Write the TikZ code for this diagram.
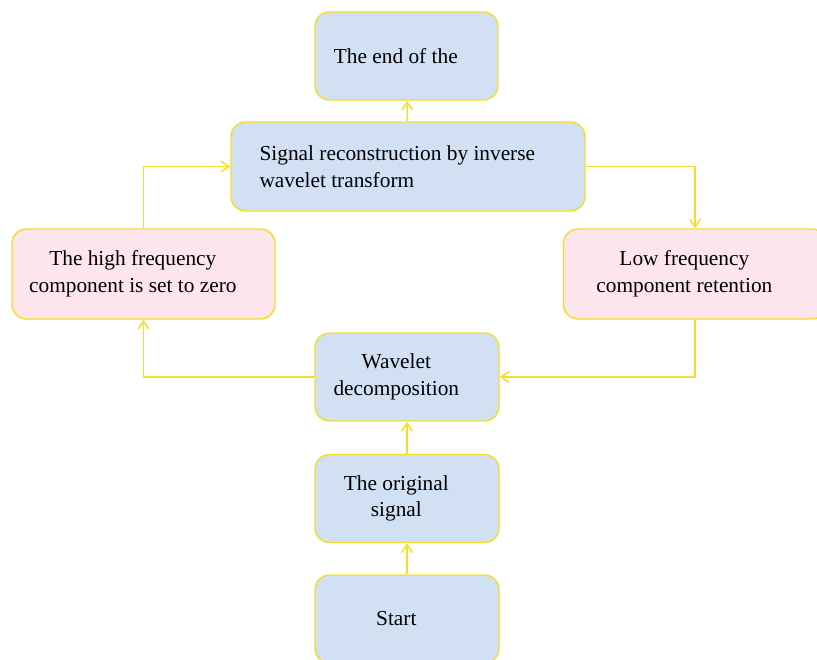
\documentclass[tikz,border=0pt]{standalone}
\usepackage{fontspec}
\setmainfont{Liberation Serif}
\usepackage{xcolor}
\usetikzlibrary{arrows.meta}

\definecolor{boxblue}{HTML}{D2E0F4}
\definecolor{boxpink}{HTML}{FDE6EB}
\definecolor{lineyel}{HTML}{F5DD30}

\begin{document}
\begin{tikzpicture}[x=0.75pt,y=-0.75pt]
\tikzset{blk/.style={draw=lineyel,line width=1.1pt,rounded corners=11pt,fill=boxblue,inner sep=0pt,minimum width=138pt,minimum height=66pt},
  pnk/.style={blk,fill=boxpink,minimum width=197.25pt,minimum height=67.5pt},
  lbl/.style={font=\fontsize{16}{20}\selectfont,align=center,xshift=-8pt,inner sep=0pt},
  arr/.style={-{Straight Barb[length=6pt,width=8pt]},draw=lineyel,line width=1.1pt}}
\useasboundingbox (0,0) rectangle (817,660);
\node (1) at (407,619) [blk,label={[lbl]center:{Start}}] {};
\node (2) at (407,498.5) [blk,label={[lbl]center:{The original\\signal}}] {};
\node (3) at (407,377) [blk,label={[lbl]center:{Wavelet\\decomposition}}] {};
\node (4) at (143.5,274) [pnk,label={[lbl]center:{The high frequency\\component is set to zero}}] {};
\node (5) at (695,274) [pnk,label={[lbl]center:{Low frequency\\component retention}}] {};
\node (6) at (408,166.5) [blk,minimum width=265.5pt,minimum height=66.75pt,label={[lbl,align=left]center:{Signal reconstruction by inverse\\wavelet transform}}] {};
\node (7) at (406.5,56) [blk,minimum width=137.25pt,label={[lbl]center:{The end of the}}] {};

\path
(1) edge [arr] (2)
(2) edge [arr] (3)
(6) edge [arr] (7)
(3.west) edge [arr, to path={-| (\tikztotarget)}] (4.south)
(5.south) edge [arr, to path={|- (\tikztotarget)}] (3.east)
(4.north) edge [arr, to path={|- (\tikztotarget)}] (6.west)
(6.east) edge [arr, to path={-| (\tikztotarget)}] (5.north);
\end{tikzpicture}
\end{document}
